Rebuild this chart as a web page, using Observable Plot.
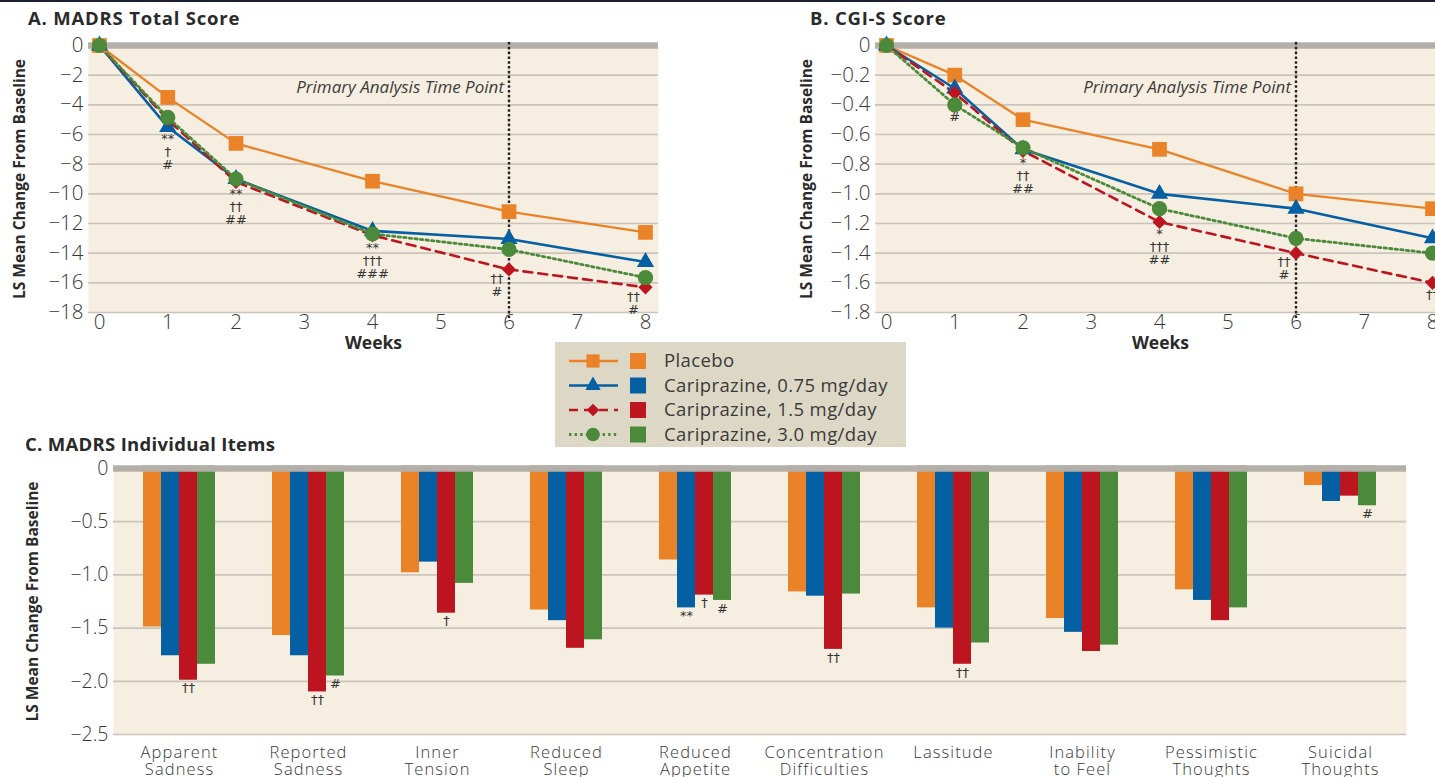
<!DOCTYPE html>
<html>
<head>
<meta charset="utf-8">
<script src="https://cdn.jsdelivr.net/npm/d3@7"></script>
<script src="https://cdn.jsdelivr.net/npm/@observablehq/plot@0.6"></script>
<style>
  body { margin: 0; background: #fff; font-family: "Open Sans", sans-serif; color: #333; }
  #fig { position: relative; width: 1435px; height: 777px; overflow: hidden; background: #fff; }
  .abs { position: absolute; }
  .title { font-weight: 700; font-size: 18.5px; letter-spacing: 0.8px; color: #2a2a2a; line-height: 22px; white-space: nowrap; }
  #topline { left: 0; top: 0; width: 1435px; height: 2px; background: #1c2131; }
  #panelC g[aria-label="fx-axis tick label"] text { letter-spacing: 1.1px; }
</style>
</head>
<body>
<div id="fig">
  <div id="topline" class="abs"></div>
  <div id="panelA" class="abs" style="left:0;top:0;width:680px;height:360px"></div>
  <div id="panelB" class="abs" style="left:787px;top:0;width:680px;height:360px"></div>
  <div id="panelCbg" class="abs" style="left:0;top:440px;width:1435px;height:337px"></div>
  <div id="panelC" class="abs" style="left:0;top:440px;width:1435px;height:337px"></div>
  <div class="abs title" style="left:28px;top:7px">A. MADRS Total Score</div>
  <div class="abs title" style="left:810px;top:7px">B. CGI-S Score</div>
  <div class="abs title" style="left:25px;top:433px;letter-spacing:0.3px">C. MADRS Individual Items</div>
  <div id="legend" class="abs" style="left:555px;top:342px;width:351px;height:105px"></div>
</div>
<script>
// ---- data ----------------------------------------------------------
const seriesNames = ["Placebo", "Cariprazine, 0.75 mg/day", "Cariprazine, 1.5 mg/day", "Cariprazine, 3.0 mg/day"];
const weeks = [0, 1, 2, 4, 6, 8];

// MADRS total score, LS mean change from baseline
const madrsPlacebo = [0, -3.5, -6.6, -9.15, -11.2, -12.6];
const madrs075     = [0, -5.5, -9.0, -12.5, -13.05, -14.6];
const madrs15      = [0, -5.0, -9.2, -12.8, -15.1, -16.3];
const madrs30      = [0, -4.85, -9.0, -12.7, -13.75, -15.65];
const madrsNoteWeeks = [1, 2, 4, 6, 8];
const madrsNotes = ["**\n†\n#", "**\n††\n##", "**\n†††\n###", "††\n#", "††\n#"];

// CGI-S score, LS mean change from baseline
const cgiPlacebo = [0, -0.2, -0.5, -0.7, -1.0, -1.1];
const cgi075     = [0, -0.29, -0.7, -1.0, -1.1, -1.3];
const cgi15      = [0, -0.32, -0.71, -1.19, -1.4, -1.6];
const cgi30      = [0, -0.4, -0.69, -1.1, -1.3, -1.4];
const cgiNoteWeeks = [1, 2, 4, 6, 8];
const cgiNotes = ["#", "*\n††\n##", "*\n†††\n##", "††\n#", "††"];

// MADRS individual items
const items = ["Apparent Sadness", "Reported Sadness", "Inner Tension", "Reduced Sleep", "Reduced Appetite",
  "Concentration Difficulties", "Lassitude", "Inability to Feel", "Pessimistic Thoughts", "Suicidal Thoughts"];
const itemPlacebo = [-1.49, -1.57, -0.98, -1.33, -0.86, -1.16, -1.31, -1.41, -1.14, -0.16];
const item075     = [-1.76, -1.76, -0.88, -1.43, -1.31, -1.20, -1.50, -1.54, -1.24, -0.31];
const item15      = [-1.99, -2.10, -1.36, -1.69, -1.19, -1.70, -1.84, -1.72, -1.43, -0.26];
const item30      = [-1.84, -1.95, -1.08, -1.61, -1.24, -1.18, -1.64, -1.66, -1.31, -0.35];
const itemNotesPlacebo = ["", "", "", "", "", "", "", "", "", ""];
const itemNotes075     = ["", "", "", "", "**", "", "", "", "", ""];
const itemNotes15      = ["††", "††", "†", "", "†", "††", "††", "", "", ""];
const itemNotes30      = ["", "#", "", "", "#", "", "", "", "", "#"];

const madrsTicks = d3.range(0, -19, -2);
const cgiTicks = d3.range(0, 10).map(i => -i * 0.2);
const itemTicks = [0, -0.5, -1.0, -1.5, -2.0, -2.5];

// ---- styling ---------------------------------------------------------
const colors = ["#ea8227", "#0560a3", "#bc1520", "#4b8a3b"];
const seriesStyle = [
  {dash: null, width: 2.3, symbol: "square", r: 8.3},
  {dash: null, width: 2.6, symbol: "triangle", r: 6.4},
  {dash: "9,6", width: 2.6, symbol: "diamond2", r: 6.4},
  {dash: "2.4,3.2", width: 2.8, symbol: "circle", r: 7.6}
];
const beige = "#f6eee1";
const gridColor = "#cac4bb";
const zeroBar = "#b5afa9";
const ink = "#383838";
const noteFont = "'DejaVu Sans', sans-serif";
const baseStyle = {fontFamily: "'Open Sans', sans-serif", fontSize: "20.5px", fontWeight: 300, color: ink, background: "transparent", overflow: "visible"};

const signed1 = d => d === 0 ? "0" : d3.format(".1f")(d);
const signed0 = d => d === 0 ? "0" : d3.format("d")(d);

// ---- line panels -----------------------------------------------------
function timeChart(values, yTicks, fmt, noteWeeks, notes, shiftedWeeks) {
  const rows = seriesNames.flatMap((s, i) => weeks.map((w, j) => ({series: s, week: w, value: values[i][j]})));
  const noteRows = noteWeeks.map((w, k) => ({
    week: w,
    value: d3.min(values, v => v[weeks.indexOf(w)]),
    note: notes[k]
  }));
  const lines = seriesNames.map((s, i) => Plot.line(rows, {
    filter: d => d.series === s, x: "week", y: "value",
    stroke: colors[i], strokeWidth: seriesStyle[i].width, strokeDasharray: seriesStyle[i].dash
  }));
  const dots = seriesNames.map((s, i) => Plot.dot(rows, {
    filter: d => d.series === s, x: "week", y: "value",
    symbol: seriesStyle[i].symbol, r: seriesStyle[i].r, fill: colors[i], stroke: "none"
  }));
  const noteStyle = {x: "week", y: "value", text: "note", lineAnchor: "top", fontSize: 13, lineHeight: 1.0,
    fontFamily: noteFont, fontWeight: 400, fill: "#333"};
  return Plot.plot({
    width: 680, height: 360,
    marginLeft: 88, marginRight: 22, marginTop: 45, marginBottom: 48,
    style: baseStyle,
    x: {domain: [0, 8], insetLeft: 11, insetRight: 13, ticks: d3.range(0, 9), tickSize: 0, tickPadding: 2, tickFormat: d3.format("d"), label: null},
    y: {domain: [d3.min(yTicks), 0], ticks: yTicks, tickSize: 0, tickPadding: 5, tickFormat: fmt, label: null},
    marks: [
      Plot.frame({fill: beige, stroke: "none"}),
      Plot.ruleY(yTicks.filter(t => t !== 0), {stroke: gridColor, strokeWidth: 1.7}),
      Plot.ruleY([0], {stroke: zeroBar, strokeWidth: 6.5}),
      Plot.ruleX([6], {x: d => d, stroke: "#222", strokeWidth: 2.4, strokeDasharray: "2.6,2.2", insetTop: -3, insetBottom: -6}),
      Plot.text([6], {x: d => d, frameAnchor: "top", dy: 42, dx: -5, textAnchor: "end", lineAnchor: "middle",
        text: () => "Primary Analysis Time Point", fontStyle: "italic", fontSize: 17, fontWeight: 400,
        fill: "#3c3c3c", style: "letter-spacing:0.5px"}),
      ...lines,
      ...dots,
      Plot.text(noteRows, {...noteStyle, filter: d => !shiftedWeeks.includes(d.week), dy: 7}),
      Plot.text(noteRows, {...noteStyle, filter: d => shiftedWeeks.includes(d.week), dy: 4, dx: -12}),
      Plot.text(["LS Mean Change From Baseline"], {text: d => d, frameAnchor: "left", rotate: -90, dx: -68,
        textAnchor: "middle", lineAnchor: "middle", fontWeight: 700, fontSize: 15.5, fill: "#2a2a2a"}),
      Plot.text(["Weeks"], {text: d => d, frameAnchor: "bottom", dy: 31, textAnchor: "middle", lineAnchor: "middle",
        fontWeight: 700, fontSize: 17.5, fill: "#2a2a2a"})
    ]
  });
}

document.getElementById("panelA").append(
  timeChart([madrsPlacebo, madrs075, madrs15, madrs30], madrsTicks, signed0, madrsNoteWeeks, madrsNotes, [6, 8]));
document.getElementById("panelB").append(
  timeChart([cgiPlacebo, cgi075, cgi15, cgi30], cgiTicks, signed1, cgiNoteWeeks, cgiNotes, [6]));

// ---- bar panel -------------------------------------------------------
const itemValues = [itemPlacebo, item075, item15, item30];
const itemNotes = [itemNotesPlacebo, itemNotes075, itemNotes15, itemNotes30];
const itemRows = items.flatMap((it, k) => seriesNames.map((s, i) => ({
  item: it, series: s, value: itemValues[i][k], note: itemNotes[i][k]
})));

const cFrame = {width: 1435, height: 337, marginLeft: 113, marginRight: 29, marginTop: 28, marginBottom: 43};

// backdrop: shaded frame, grid, zero bar and the value axis
document.getElementById("panelCbg").append(Plot.plot({
  ...cFrame,
  style: {...baseStyle, fontSize: "19.5px"},
  y: {domain: [-2.5, 0], ticks: itemTicks, tickSize: 0, tickPadding: 5, tickFormat: signed1, label: null},
  marks: [
    Plot.frame({fill: beige, stroke: "none"}),
    Plot.ruleY(itemTicks.filter(t => t !== 0), {stroke: gridColor, strokeWidth: 1.7}),
    Plot.ruleY([0], {stroke: zeroBar, strokeWidth: 6.5}),
    Plot.text(["LS Mean Change From Baseline"], {text: d => d, frameAnchor: "left", rotate: -90, dx: -80,
      textAnchor: "middle", lineAnchor: "middle", fontWeight: 700, fontSize: 15.5, fill: "#2a2a2a"})
  ]
}));

// grouped bars, one facet per item
document.getElementById("panelC").append(Plot.plot({
  ...cFrame,
  style: baseStyle,
  facet: {data: itemRows, x: "item"},
  fx: {domain: items, paddingInner: 0.443, paddingOuter: 0.2215, axis: null, label: null},
  x: {domain: seriesNames, axis: null, padding: 0},
  y: {domain: [-2.5, 0], axis: null},
  color: {domain: seriesNames, range: colors},
  marks: [
    Plot.barY(itemRows, {x: "series", y: "value", fill: "series", inset: 0}),
    Plot.ruleY([0], {stroke: zeroBar, strokeWidth: 6.5}),
    Plot.text(itemRows, {filter: d => d.note, x: "series", y: "value", text: "note", lineAnchor: "top", dy: 3,
      fontSize: 13, fontFamily: noteFont, fontWeight: 400, fill: "#333"}),
    Plot.axisFx({anchor: "bottom", tickSize: 0, tickPadding: 11, tickFormat: s => s.replace(" ", "\n"),
      fontSize: 16.5, lineHeight: 1.05, label: null})
  ]
}));

// ---- legend ----------------------------------------------------------
(function legend() {
  const svg = d3.create("svg").attr("width", 351).attr("height", 105)
    .style("font-family", "'Open Sans', sans-serif");
  svg.append("rect").attr("width", 351).attr("height", 105).attr("fill", "#ddd8c6");
  const symbols = {square: d3.symbolSquare, triangle: d3.symbolTriangle, diamond2: d3.symbolDiamond2, circle: d3.symbolCircle};
  seriesNames.forEach((s, i) => {
    const cy = 19 + i * 24.5;
    const st = seriesStyle[i];
    const g = svg.append("g");
    g.append("line").attr("x1", 14).attr("x2", 63).attr("y1", cy).attr("y2", cy)
      .attr("stroke", colors[i]).attr("stroke-width", st.width).attr("stroke-dasharray", st.dash);
    g.append("path").attr("transform", `translate(38,${cy})`)
      .attr("d", d3.symbol(symbols[st.symbol], Math.PI * st.r * st.r * 0.8)()).attr("fill", colors[i]);
    g.append("rect").attr("x", 75).attr("y", cy - 8).attr("width", 16).attr("height", 16).attr("fill", colors[i]);
    g.append("text").attr("x", 109).attr("y", cy).attr("dy", "0.35em").attr("font-size", 18.5)
      .attr("letter-spacing", 0.4).attr("fill", "#3a3a3a").text(s);
  });
  document.getElementById("legend").append(svg.node());
})();
</script>
</body>
</html>
